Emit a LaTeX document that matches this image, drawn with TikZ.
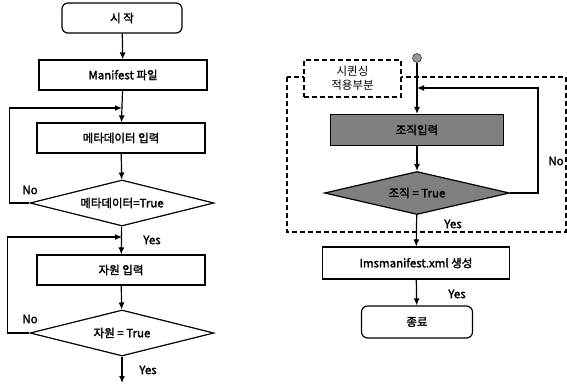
\documentclass[tikz,border=0pt]{standalone}
\usepackage{fontspec}
\setmainfont{Noto Sans CJK KR}[AutoFakeBold=2]
\usetikzlibrary{shapes, arrows, arrows.meta, positioning, calc, shapes.geometric}
\definecolor{boxgray}{RGB}{128,128,128}
\definecolor{dotgray}{RGB}{150,150,150}

\begin{document}
\begin{tikzpicture}[
        x=1pt, y=-1pt,
        every node/.style={align=center, font=\fontsize{11.5}{13}\selectfont\bfseries},
        terminal/.style={rectangle, rounded corners=6pt, draw, line width=1.2pt,
                     minimum width=120pt, minimum height=30pt},
        process/.style={rectangle, draw, line width=1.2pt,
                       minimum width=168pt, minimum height=30pt},
        decision/.style={diamond, draw, line width=1.2pt, aspect=4,
                  minimum width=184pt, minimum height=46pt, inner sep=0pt},
        shaded/.style={fill=boxgray},
        flow/.style={-{Latex[length=7pt,width=6pt]}, line width=1.2pt},
        tag/.style={font=\fontsize{11.5}{13}\selectfont\bfseries}
    ]
        \useasboundingbox (0,0) rectangle (567,385);

        % Left flow
        \node [terminal] (start) at (122,18) {시 작};
        \node [process] (manifest) at (123,75) {Manifest 파일};
        \node [process] (metain) at (121,138) {메타데이터 입력};
        \node [decision] (metachk) at (122,203) {메타데이터=True};
        \node [process] (resin) at (121,270) {자원 입력};
        \node [decision] (reschk) at (122,333) {자원 = True};
        \coordinate (metajoin) at (122,108);
        \coordinate (resjoin) at (122,237);
        \coordinate (leftend) at (122,383);

        \draw[flow] (start) -- (manifest);
        \draw[flow] (manifest) -- (metain);
        \draw[flow] (metain) -- (metachk);
        \draw[flow] (metachk) -- (resin);
        \draw[flow] (resin) -- (reschk);
        \draw[flow] (reschk) -- (leftend);

        % No loops
        \draw[flow] (metachk.west) -- ++(-20,0) |- (metajoin);
        \draw[flow] (reschk.west) -- ++(-22,0) |- (resjoin);
        \node[tag] at (30,190) {No};
        \node[tag] at (30,319) {No};
        \node[tag] at (152,240) {Yes};
        \node[tag] at (148,370) {Yes};

        % Right flow
        \node [circle, draw, fill=dotgray, inner sep=0pt, minimum size=9pt] (dot) at (417,58) {};
        \node [process, shaded, minimum width=173pt, minimum height=31pt] (orgin) at (417,130) {조직입력};
        \node [decision, shaded, minimum width=185pt, minimum height=43pt] (orgchk) at (417,193) {조직 = True};
        \node [process, minimum width=187pt, minimum height=32pt] (imsgen) at (416,263) {Imsmanifest.xml 생성};
        \node [terminal, minimum width=111pt, minimum height=32pt] (finish) at (417,322) {종료};
        \coordinate (orgjoin) at (417,88);

        \draw[flow] (dot) -- (orgin);
        \draw[flow] (orgin) -- (orgchk);
        \draw[flow] (orgchk) -- (imsgen);
        \draw[flow] (imsgen) -- (finish);
        \draw[flow] (orgchk.east) -- (538,193) |- (orgjoin);
        \node[tag] at (556,161) {No};
        \node[tag] at (453,224) {Yes};
        \node[tag] at (457,294) {Yes};

        % Sequencing region
        \draw[line width=1.2pt, dash pattern=on 5pt off 3pt] (287,77) rectangle (566,232);
        \node [draw, line width=1.2pt, dash pattern=on 5pt off 3pt, fill=white,
               minimum width=97pt, minimum height=37pt,
               font=\fontsize{11.5}{14}\selectfont, inner sep=1pt] (seqlabel) at (352.5,78.5) {시퀸싱\\적용부분};
    \end{tikzpicture}
\end{document}
